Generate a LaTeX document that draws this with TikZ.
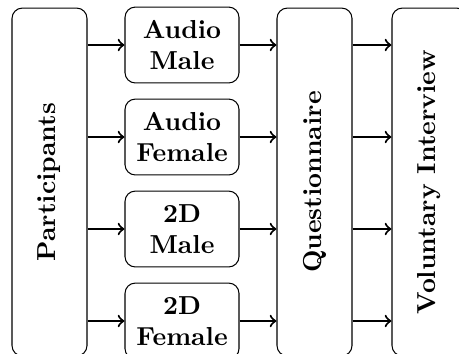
\documentclass[tikz,border=0pt]{standalone}
\usepackage{graphicx}
\begin{document}
\begin{tikzpicture}[x=0.3846pt,y=-0.3846pt,
  box/.style={draw, rounded corners=4pt, line width=0.4pt, font=\bfseries,
    align=center, inner sep=0pt},
  smallbox/.style={box, minimum width=43.85pt, minimum height=29.2pt},
  tallbox/.style={box, minimum width=28.85pt, minimum height=133.8pt},
  flow/.style={->, line width=0.8pt}]
\useasboundingbox (0,0) rectangle (459,353);
\clip (0,0) rectangle (459,353);

\node[tallbox] (part) at (49.5,182) {\rotatebox{90}{Participants}};
\node[smallbox] (am) at (182,45)  {Audio\\Male};
\node[smallbox] (af) at (182,137) {Audio\\Female};
\node[smallbox] (dm) at (182,229) {2D\\Male};
\node[smallbox] (df) at (182,321) {2D\\Female};
\node[tallbox] (quest) at (314.5,182) {\rotatebox{90}{Questionnaire}};
\node[tallbox] (vol) at (429.5,182) {\rotatebox{90}{Voluntary Interview}};

\foreach \b in {am,af,dm,df}{
  \draw[flow] (part.east |- \b.west) -- (\b.west);
  \draw[flow] (\b.east) -- (quest.west |- \b.east);
  \draw[flow] (quest.east |- \b.east) -- (vol.west |- \b.east);
}
\end{tikzpicture}
\end{document}
